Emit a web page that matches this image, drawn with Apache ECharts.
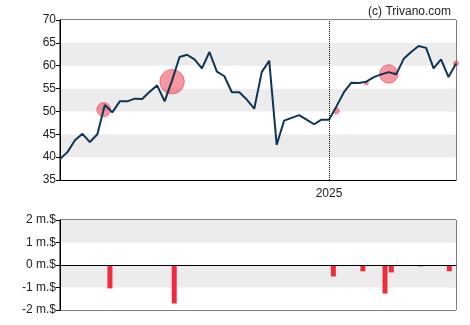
<!DOCTYPE html>
<html>
<head>
<meta charset="utf-8">
<script src="https://cdn.jsdelivr.net/npm/echarts@6/dist/echarts.min.js"></script>
<style>
  html, body { margin: 0; padding: 0; background: #fff; }
  #chart { width: 470px; height: 325px; }
</style>
</head>
<body>
<div id="chart"></div>
<script>
// Weekly closing prices, first week starting 2024-04-24
const firstWeek = '2024-04-24';
const lastWeek = '2025-04-30';
const priceValues = [
  39.6, 41.1, 43.7, 45.1, 43.3, 45.0, 51.4, 49.8, 52.2, 52.2,
  52.8, 52.7, 54.3, 55.7, 52.2, 56.8, 61.9, 62.4, 61.4, 59.4,
  63.0, 58.7, 57.7, 54.2, 54.2, 52.6, 50.6, 58.6, 61.1, 42.7,
  48.0, 48.6, 49.2, 48.2, 47.2, 48.2, 48.2, 51.1, 54.2, 56.3,
  56.2, 56.5, 57.5, 58.1, 58.6, 58.1, 61.5, 63.0, 64.3, 63.9,
  59.4, 61.4, 57.5, 60.5
];

// Insider trades shown as bubbles on the price line (amount in m.$)
const tradeDates = ['2024-06-04', '2024-08-07', '2025-01-08', '2025-02-05', '2025-02-26', '2025-03-04', '2025-04-30'];
const tradePrices = [50.4, 56.5, 50.1, 56.2, 58.2, 58.3, 60.5];
const tradeAmounts = [1.0, 1.75, 0.4, 0.28, 1.32, 0.2, 0.35];

// Net insider flow (m.$)
const flowDates = ['2024-06-08', '2024-08-08', '2025-01-06', '2025-02-03', '2025-02-24', '2025-03-02', '2025-03-30', '2025-04-26'];
const flowValues = [-1.04, -1.71, -0.51, -0.28, -1.27, -0.33, -0.06, -0.28];

// Year marker
const yearTicks = ['2025-01-01'];

function toTime(s) {
  const p = s.split('-').map(Number);
  return new Date(p[0], p[1] - 1, p[2]).getTime();
}

const startTime = toTime(firstWeek);
const endTime = toTime(lastWeek);
const priceData = priceValues.map(function (v, i) {
  const d = new Date(startTime);
  d.setDate(d.getDate() + 7 * i);
  return [d.getTime(), v];
});
const tradeData = tradeDates.map(function (d, i) {
  return [toTime(d), tradePrices[i], tradeAmounts[i]];
});
const flowData = flowDates.map(function (d, i) {
  return [toTime(d), flowValues[i]];
});
const yearTimes = yearTicks.map(toTime);

const fontFamily = 'Liberation Sans, Arial, sans-serif';
const labelStyle = { color: '#222', fontSize: 12, fontFamily: fontFamily };
const bands = { show: true, areaStyle: { color: ['#ffffff', '#ececec'] } };

const chart = echarts.init(document.getElementById('chart'), null, { renderer: 'canvas' });
chart.setOption({
  animation: false,
  backgroundColor: '#fff',
  title: {
    text: '(c) Trivano.com',
    right: 14,
    top: 1,
    textStyle: { color: '#222', fontSize: 12, fontWeight: 'normal', fontFamily: fontFamily }
  },
  grid: [
    { left: 60, right: 14, top: 20, height: 160, show: true, borderColor: '#000', borderWidth: 1, backgroundColor: 'transparent' },
    { left: 60, right: 14, top: 220, height: 90, show: true, borderColor: '#000', borderWidth: 1, backgroundColor: 'transparent' }
  ],
  xAxis: [
    {
      type: 'time', gridIndex: 0, min: startTime, max: endTime,
      axisLine: { show: true, lineStyle: { color: '#000', width: 1 } },
      axisTick: { show: false },
      axisLabel: { show: false },
      splitLine: { show: false }
    },
    {
      type: 'time', gridIndex: 1, min: startTime, max: endTime,
      axisLine: { show: true, lineStyle: { color: '#000', width: 1 } },
      axisTick: { show: false },
      axisLabel: { show: false },
      splitLine: { show: false }
    }
  ],
  yAxis: [
    {
      type: 'value', gridIndex: 0, min: 35, max: 70, interval: 5,
      axisLine: { show: true, lineStyle: { color: '#000', width: 1 } },
      axisTick: { show: true, length: 4, lineStyle: { color: '#000' } },
      axisLabel: Object.assign({ margin: 4 }, labelStyle),
      splitLine: { show: false },
      splitArea: bands
    },
    {
      type: 'value', gridIndex: 1, min: -2, max: 2, interval: 1,
      axisLine: { show: true, lineStyle: { color: '#000', width: 1 } },
      axisTick: { show: true, length: 4, lineStyle: { color: '#000' } },
      axisLabel: Object.assign({ margin: 4, formatter: function (v) { return v + ' m.$'; } }, labelStyle),
      splitLine: { show: false },
      splitArea: bands
    }
  ],
  series: [
    {
      name: 'trades',
      type: 'scatter',
      xAxisIndex: 0, yAxisIndex: 0,
      data: tradeData,
      symbol: 'circle',
      symbolSize: function (d) { return Math.max(3, d[2] * 14); },
      itemStyle: { color: 'rgba(236, 45, 65, 0.62)', borderColor: 'rgba(230, 60, 80, 0.7)', borderWidth: 1 },
      z: 2
    },
    {
      name: 'price',
      type: 'line',
      xAxisIndex: 0, yAxisIndex: 0,
      data: priceData,
      showSymbol: false,
      symbol: 'none',
      lineStyle: { color: '#0f3553', width: 2 },
      z: 3,
      markLine: {
        silent: true,
        symbol: 'none',
        label: {
          show: true,
          position: 'start',
          distance: 8,
          formatter: function (p) { return String(new Date(p.value).getFullYear()); },
          color: '#222', fontSize: 12, fontFamily: fontFamily
        },
        lineStyle: { color: '#000', type: 'dotted', width: 1 },
        data: yearTimes.map(function (t) { return { xAxis: t }; })
      }
    },
    {
      name: 'flow',
      type: 'bar',
      xAxisIndex: 1, yAxisIndex: 1,
      data: flowData,
      barWidth: 5,
      itemStyle: { color: '#ef2b3f' },
      markLine: {
        silent: true,
        symbol: 'none',
        label: { show: false },
        lineStyle: { color: '#000', type: 'solid', width: 1 },
        data: [{ yAxis: 0 }]
      }
    }
  ]
});
</script>
</body>
</html>
